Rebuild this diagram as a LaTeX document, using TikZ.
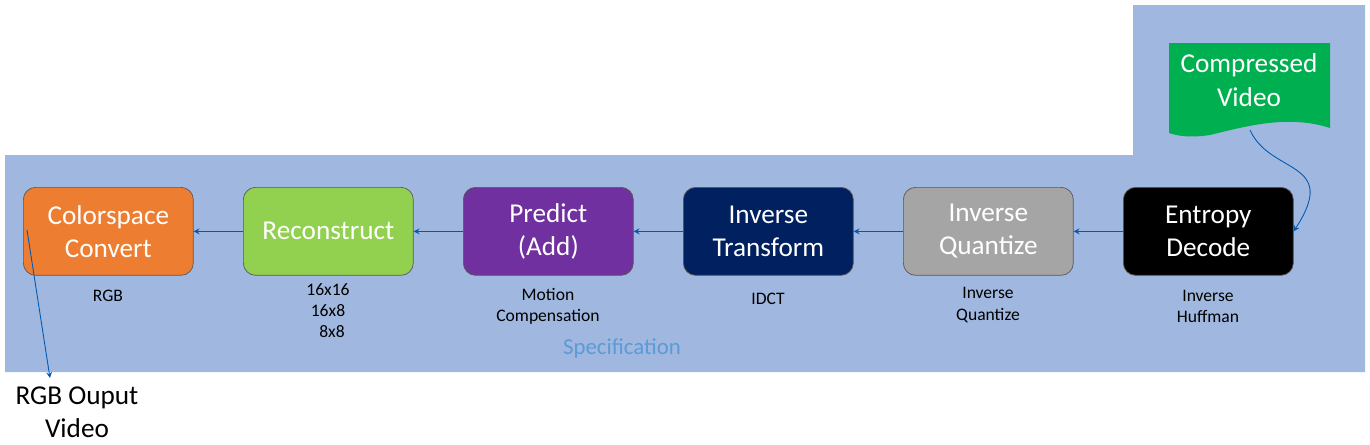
\documentclass[tikz,border=0pt]{standalone}
\usepackage{fontspec}
\setmainfont{Carlito}
\begin{document}
\begin{tikzpicture}[x=0.02cm,y=-0.02cm,
 box/.style={draw=gray!70!black,line width=0.4pt,rounded corners=7pt,minimum width=3.4cm,minimum height=1.76cm,text=white,font=\fontsize{15.5}{19}\selectfont,align=center,anchor=north west},
 lab/.style={font=\fontsize{10}{12}\selectfont,align=center},
 arr/.style={draw=blue!50!cyan!70!black,line width=0.5pt,-stealth}]
\useasboundingbox (0,0) rectangle (1370,444);
\fill[fill={rgb,255:red,160;green,184;blue,224}] (5,155) -- (1133,155) -- (1133,5) -- (1365,5) -- (1365,372) -- (5,372) -- cycle;
\node[box,fill={rgb,255:red,237;green,125;blue,49}] (b1) at (23,187) {Colorspace\\Convert};
\node[box,fill={rgb,255:red,146;green,208;blue,80}] (b2) at (243,187) {Reconstruct};
\node[box,fill={rgb,255:red,112;green,48;blue,160}] (b3) at (463,187) {Predict\\(Add)};
\node[box,fill={rgb,255:red,0;green,32;blue,96}] (b4) at (683,187) {Inverse\\Transform};
\node[box,fill={rgb,255:red,165;green,165;blue,165}] (b5) at (903,187) {Inverse\\Quantize};
\node[box,fill=black] (b6) at (1123,187) {Entropy\\Decode};
\fill[fill={rgb,255:red,0;green,176;blue,80}] (1169,43) -- (1330,43) -- (1330,128) .. controls (1290,115) and (1250,125) .. (1210,135) .. controls (1190,138) and (1178,136) .. (1169,133) -- cycle;
\node[text=white,font=\fontsize{15.5}{19}\selectfont,align=center] (cv) at (1249,80) {Compressed\\Video};
\coordinate (cvb) at (1250,130);
\draw[arr] (cvb) .. controls (1270,175) and (1340,160) .. (b6.east);
\draw[arr] (b6.west) -- (b5.east);
\draw[arr] (b5.west) -- (b4.east);
\draw[arr] (b4.west) -- (b3.east);
\draw[arr] (b3.west) -- (b2.east);
\draw[arr] (b2.west) -- (b1.east);
\node[lab] (l1) at (108,296) {RGB};
\node[lab] (l2) at (328,311) {16x16\\16x8\\\ \ 8x8};
\node[lab] (l3) at (548,306) {Motion\\Compensation};
\node[lab] (l4) at (768,299) {IDCT};
\node[lab] (l5) at (988,305) {Inverse\\Quantize};
\node[lab] (l6) at (1208,306) {Inverse\\Huffman};
\node[text={rgb,255:red,91;green,155;blue,213},font=\fontsize{13}{15}\selectfont] (sp) at (622,348) {Specification};
\node[font=\fontsize{15.5}{19}\selectfont,align=center] (out) at (77,412) {RGB Ouput\\Video};
\coordinate (st) at (27,230);
\draw[arr] (st) -- (50,378);
\end{tikzpicture}
\end{document}
